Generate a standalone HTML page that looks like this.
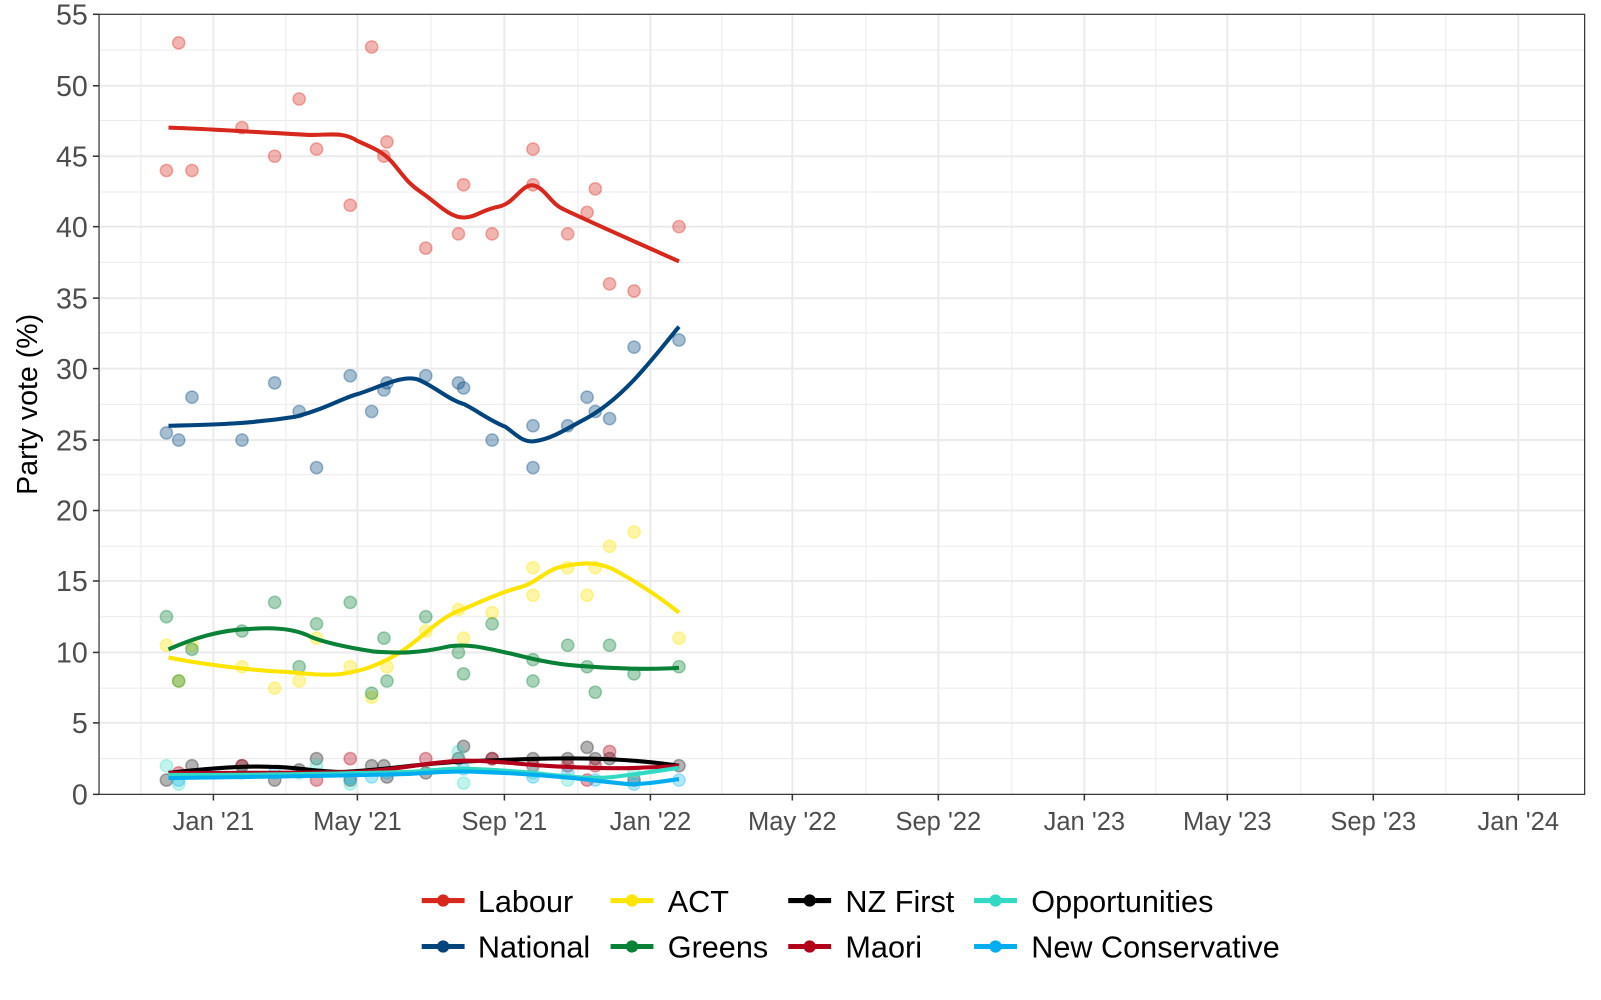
<!DOCTYPE html>
<html><head><meta charset="utf-8"><style>
html,body{margin:0;padding:0;background:#fff;overflow:hidden;}
svg{display:block;}
svg text{font-family:"Liberation Sans",sans-serif;}
</style></head><body>
<svg width="1601" height="1000" viewBox="0 0 1568 979.4" xmlns="http://www.w3.org/2000/svg">
<rect width="1568" height="980" fill="#fff"/>
<g stroke="#ebebeb" stroke-width="1">
<line x1="97" x2="1552" y1="743" y2="743"/><line x1="97" x2="1552" y1="674" y2="674"/><line x1="97" x2="1552" y1="604" y2="604"/><line x1="97" x2="1552" y1="535" y2="535"/><line x1="97" x2="1552" y1="465" y2="465"/><line x1="97" x2="1552" y1="396" y2="396"/><line x1="97" x2="1552" y1="326" y2="326"/><line x1="97" x2="1552" y1="257" y2="257"/><line x1="97" x2="1552" y1="188" y2="188"/><line x1="97" x2="1552" y1="118" y2="118"/><line x1="97" x2="1552" y1="49" y2="49"/>
<line y1="14" y2="778" x1="138" x2="138"/><line y1="14" y2="778" x1="280" x2="280"/><line y1="14" y2="778" x1="422" x2="422"/><line y1="14" y2="778" x1="566" x2="566"/><line y1="14" y2="778" x1="707" x2="707"/><line y1="14" y2="778" x1="848" x2="848"/><line y1="14" y2="778" x1="991" x2="991"/><line y1="14" y2="778" x1="1132" x2="1132"/><line y1="14" y2="778" x1="1274" x2="1274"/><line y1="14" y2="778" x1="1416" x2="1416"/>
</g>
<g stroke="#ebebeb" stroke-width="2">
<line x1="97" x2="1552" y1="708" y2="708"/><line x1="97" x2="1552" y1="639" y2="639"/><line x1="97" x2="1552" y1="569" y2="569"/><line x1="97" x2="1552" y1="500" y2="500"/><line x1="97" x2="1552" y1="431" y2="431"/><line x1="97" x2="1552" y1="361" y2="361"/><line x1="97" x2="1552" y1="292" y2="292"/><line x1="97" x2="1552" y1="222" y2="222"/><line x1="97" x2="1552" y1="153" y2="153"/><line x1="97" x2="1552" y1="84" y2="84"/>
<line y1="14" y2="778" x1="209" x2="209"/><line y1="14" y2="778" x1="350" x2="350"/><line y1="14" y2="778" x1="494" x2="494"/><line y1="14" y2="778" x1="637" x2="637"/><line y1="14" y2="778" x1="776" x2="776"/><line y1="14" y2="778" x1="919" x2="919"/><line y1="14" y2="778" x1="1062" x2="1062"/><line y1="14" y2="778" x1="1202" x2="1202"/><line y1="14" y2="778" x1="1345" x2="1345"/><line y1="14" y2="778" x1="1487" x2="1487"/>
</g>
<g fill="#d7281e" fill-opacity="0.35" stroke="#d7281e" stroke-opacity="0.35" stroke-width="1.5">
<circle cx="163" cy="167" r="6"/><circle cx="175" cy="42" r="6"/><circle cx="188" cy="167" r="6"/><circle cx="237" cy="125" r="6"/><circle cx="269" cy="153" r="6"/><circle cx="293" cy="97" r="6"/><circle cx="310" cy="146" r="6"/><circle cx="343" cy="201" r="6"/><circle cx="364" cy="46" r="6"/><circle cx="376" cy="153" r="6"/><circle cx="379" cy="139" r="6"/><circle cx="417" cy="243" r="6"/><circle cx="449" cy="229" r="6"/><circle cx="454" cy="181" r="6"/><circle cx="482" cy="229" r="6"/><circle cx="522" cy="146" r="6"/><circle cx="522" cy="181" r="6"/><circle cx="556" cy="229" r="6"/><circle cx="575" cy="208" r="6"/><circle cx="583" cy="185" r="6"/><circle cx="597" cy="278" r="6"/><circle cx="621" cy="285" r="6"/><circle cx="665" cy="222" r="6"/>
</g>
<g fill="#00447c" fill-opacity="0.35" stroke="#00447c" stroke-opacity="0.35" stroke-width="1.5">
<circle cx="163" cy="424" r="6"/><circle cx="175" cy="431" r="6"/><circle cx="188" cy="389" r="6"/><circle cx="237" cy="431" r="6"/><circle cx="269" cy="375" r="6"/><circle cx="293" cy="403" r="6"/><circle cx="310" cy="458" r="6"/><circle cx="343" cy="368" r="6"/><circle cx="364" cy="403" r="6"/><circle cx="376" cy="382" r="6"/><circle cx="379" cy="375" r="6"/><circle cx="417" cy="368" r="6"/><circle cx="449" cy="375" r="6"/><circle cx="454" cy="380" r="6"/><circle cx="482" cy="431" r="6"/><circle cx="522" cy="417" r="6"/><circle cx="522" cy="458" r="6"/><circle cx="556" cy="417" r="6"/><circle cx="575" cy="389" r="6"/><circle cx="583" cy="403" r="6"/><circle cx="597" cy="410" r="6"/><circle cx="621" cy="340" r="6"/><circle cx="665" cy="333" r="6"/>
</g>
<g fill="#fde401" fill-opacity="0.35" stroke="#fde401" stroke-opacity="0.35" stroke-width="1.5">
<circle cx="163" cy="632" r="6"/><circle cx="175" cy="667" r="6"/><circle cx="188" cy="632" r="6"/><circle cx="237" cy="653" r="6"/><circle cx="269" cy="674" r="6"/><circle cx="293" cy="667" r="6"/><circle cx="310" cy="625" r="6"/><circle cx="343" cy="653" r="6"/><circle cx="364" cy="683" r="6"/><circle cx="379" cy="653" r="6"/><circle cx="417" cy="618" r="6"/><circle cx="449" cy="597" r="6"/><circle cx="454" cy="625" r="6"/><circle cx="482" cy="600" r="6"/><circle cx="522" cy="556" r="6"/><circle cx="522" cy="583" r="6"/><circle cx="556" cy="556" r="6"/><circle cx="575" cy="583" r="6"/><circle cx="583" cy="556" r="6"/><circle cx="597" cy="535" r="6"/><circle cx="621" cy="521" r="6"/><circle cx="665" cy="625" r="6"/>
</g>
<g fill="#098137" fill-opacity="0.35" stroke="#098137" stroke-opacity="0.35" stroke-width="1.5">
<circle cx="163" cy="604" r="6"/><circle cx="175" cy="667" r="6"/><circle cx="188" cy="636" r="6"/><circle cx="237" cy="618" r="6"/><circle cx="269" cy="590" r="6"/><circle cx="293" cy="653" r="6"/><circle cx="310" cy="611" r="6"/><circle cx="343" cy="590" r="6"/><circle cx="364" cy="679" r="6"/><circle cx="376" cy="625" r="6"/><circle cx="379" cy="667" r="6"/><circle cx="417" cy="604" r="6"/><circle cx="449" cy="639" r="6"/><circle cx="454" cy="660" r="6"/><circle cx="482" cy="611" r="6"/><circle cx="522" cy="646" r="6"/><circle cx="522" cy="667" r="6"/><circle cx="556" cy="632" r="6"/><circle cx="575" cy="653" r="6"/><circle cx="583" cy="678" r="6"/><circle cx="597" cy="632" r="6"/><circle cx="621" cy="660" r="6"/><circle cx="665" cy="653" r="6"/>
</g>
<g fill="#000" fill-opacity="0.3" stroke="#000" stroke-opacity="0.3" stroke-width="1.5">
<circle cx="163" cy="764" r="6"/><circle cx="188" cy="750" r="6"/><circle cx="237" cy="750" r="6"/><circle cx="269" cy="764" r="6"/><circle cx="293" cy="754" r="6"/><circle cx="310" cy="743" r="6"/><circle cx="343" cy="764" r="6"/><circle cx="364" cy="750" r="6"/><circle cx="376" cy="750" r="6"/><circle cx="379" cy="761" r="6"/><circle cx="417" cy="757" r="6"/><circle cx="449" cy="743" r="6"/><circle cx="454" cy="731" r="6"/><circle cx="482" cy="743" r="6"/><circle cx="522" cy="743" r="6"/><circle cx="556" cy="743" r="6"/><circle cx="575" cy="732" r="6"/><circle cx="583" cy="743" r="6"/><circle cx="597" cy="743" r="6"/><circle cx="621" cy="764" r="6"/><circle cx="665" cy="750" r="6"/>
</g>
<g fill="#b2001a" fill-opacity="0.35" stroke="#b2001a" stroke-opacity="0.35" stroke-width="1.5">
<circle cx="175" cy="757" r="6"/><circle cx="237" cy="750" r="6"/><circle cx="310" cy="764" r="6"/><circle cx="343" cy="743" r="6"/><circle cx="417" cy="743" r="6"/><circle cx="482" cy="743" r="6"/><circle cx="522" cy="750" r="6"/><circle cx="556" cy="750" r="6"/><circle cx="575" cy="764" r="6"/><circle cx="597" cy="736" r="6"/><circle cx="583" cy="750" r="6"/>
</g>
<g fill="#32dac3" fill-opacity="0.3" stroke="#32dac3" stroke-opacity="0.3" stroke-width="1.5">
<circle cx="163" cy="750" r="6"/><circle cx="175" cy="768" r="6"/><circle cx="237" cy="757" r="6"/><circle cx="293" cy="757" r="6"/><circle cx="310" cy="750" r="6"/><circle cx="343" cy="768" r="6"/><circle cx="449" cy="736" r="6"/><circle cx="454" cy="767" r="6"/><circle cx="522" cy="757" r="6"/><circle cx="556" cy="764" r="6"/><circle cx="621" cy="757" r="6"/>
</g>
<g fill="#00aeef" fill-opacity="0.3" stroke="#00aeef" stroke-opacity="0.3" stroke-width="1.5">
<circle cx="175" cy="764" r="6"/><circle cx="269" cy="757" r="6"/><circle cx="343" cy="762" r="6"/><circle cx="364" cy="761" r="6"/><circle cx="379" cy="757" r="6"/><circle cx="454" cy="753" r="6"/><circle cx="522" cy="761" r="6"/><circle cx="556" cy="757" r="6"/><circle cx="583" cy="764" r="6"/><circle cx="621" cy="768" r="6"/><circle cx="665" cy="764" r="6"/>
</g>
<g fill="none" stroke-width="4" stroke-linejoin="round">
<path stroke="#d7281e" d="M165,125 C200,126 260,130 300,132 C320,133 335,128 350,138 C365,145 375,148 385,160 C395,172 400,180 412,188 C425,196 440,214 455,213 C468,212 470,206 490,202 C505,198 512,178 524,182 C535,186 540,200 552,205 C575,216 620,236 665,256"/>
<path stroke="#00447c" d="M165,417 C200,416 240,416 290,408 C320,400 335,390 350,386 C370,380 395,366 410,372 C425,378 440,392 455,396 C470,404 480,412 495,418 C505,425 512,434 524,432 C540,430 555,420 570,412 C590,402 610,385 630,362 C645,345 655,332 665,320"/>
<path stroke="#fde401" d="M165,644 C200,651 250,657 280,658 C300,660 320,662 335,660 C355,657 370,652 390,640 C410,628 430,605 450,598 C470,590 490,580 510,575 C525,571 535,558 550,555 C565,552 585,548 605,560 C630,574 650,588 665,600"/>
<path stroke="#098137" d="M165,636 C190,625 215,617 245,616 C270,614 290,616 305,624 C320,630 340,634 365,638 C390,640 410,640 440,633 C460,630 480,636 500,640 C520,645 540,650 565,652 C600,655 640,656 665,654"/>
<path stroke="#000" d="M165,757 C200,753 240,750 265,751 C290,751 310,756 335,756 C370,755 410,748 450,746 C500,744 540,742 580,743 C620,744 645,747 665,750"/>
<path stroke="#b2001a" d="M165,757 C230,757 300,757 350,756 C390,754 420,746 455,745 C490,745 510,749 535,750 C570,752 600,753 625,752 C645,751 655,751 665,750"/>
<path stroke="#32dac3" d="M165,759 C240,759 330,758 400,756 C430,754 445,752 460,753 C490,754 515,756 540,759 C560,761 580,763 600,761 C625,758 645,755 665,752"/>
<path stroke="#00aeef" d="M165,762 C240,761 330,760 400,758 C430,756 450,755 470,756 C500,757 530,759 560,762 C580,764 595,766 615,768 C635,768 650,765 665,763"/>
</g>
<rect x="97" y="14" width="1455" height="764" fill="none" stroke="#333" stroke-width="1.2"/>
<g stroke="#333" stroke-width="1.5">
<line x1="91" x2="97" y1="778" y2="778"/><line x1="91" x2="97" y1="708" y2="708"/><line x1="91" x2="97" y1="639" y2="639"/><line x1="91" x2="97" y1="569" y2="569"/><line x1="91" x2="97" y1="500" y2="500"/><line x1="91" x2="97" y1="431" y2="431"/><line x1="91" x2="97" y1="361" y2="361"/><line x1="91" x2="97" y1="292" y2="292"/><line x1="91" x2="97" y1="222" y2="222"/><line x1="91" x2="97" y1="153" y2="153"/><line x1="91" x2="97" y1="84" y2="84"/><line x1="91" x2="97" y1="14" y2="14"/>
<line y1="778" y2="784" x1="209" x2="209"/><line y1="778" y2="784" x1="350" x2="350"/><line y1="778" y2="784" x1="494" x2="494"/><line y1="778" y2="784" x1="637" x2="637"/><line y1="778" y2="784" x1="776" x2="776"/><line y1="778" y2="784" x1="919" x2="919"/><line y1="778" y2="784" x1="1062" x2="1062"/><line y1="778" y2="784" x1="1202" x2="1202"/><line y1="778" y2="784" x1="1345" x2="1345"/><line y1="778" y2="784" x1="1487" x2="1487"/>
</g>
<g fill="#4d4d4d" font-size="28" text-anchor="end">
<text x="86" y="788">0</text><text x="86" y="718">5</text><text x="86" y="649">10</text><text x="86" y="579">15</text><text x="86" y="510">20</text><text x="86" y="441">25</text><text x="86" y="371">30</text><text x="86" y="302">35</text><text x="86" y="232">40</text><text x="86" y="163">45</text><text x="86" y="94">50</text><text x="86" y="24">55</text>
</g>
<g fill="#4d4d4d" font-size="25" text-anchor="middle">
<text x="209" y="813">Jan '21</text><text x="350" y="813">May '21</text><text x="494" y="813">Sep '21</text><text x="637" y="813">Jan '22</text><text x="776" y="813">May '22</text><text x="919" y="813">Sep '22</text><text x="1062" y="813">Jan '23</text><text x="1202" y="813">May '23</text><text x="1345" y="813">Sep '23</text><text x="1487" y="813">Jan '24</text>
</g>
<text transform="translate(36,396) rotate(-90)" font-size="28" text-anchor="middle" fill="#000">Party vote (%)</text>
<g stroke-width="5">
<line x1="413" x2="455" y1="882" y2="882" stroke="#d7281e"/><circle cx="434" cy="882" r="6" fill="#d7281e"/>
<line x1="413" x2="455" y1="927" y2="927" stroke="#00447c"/><circle cx="434" cy="927" r="6" fill="#00447c"/>
<line x1="598" x2="640" y1="882" y2="882" stroke="#fde401"/><circle cx="619" cy="882" r="6" fill="#fde401"/>
<line x1="598" x2="640" y1="927" y2="927" stroke="#098137"/><circle cx="619" cy="927" r="6" fill="#098137"/>
<line x1="772" x2="814" y1="882" y2="882" stroke="#000"/><circle cx="793" cy="882" r="6" fill="#000"/>
<line x1="772" x2="814" y1="927" y2="927" stroke="#b2001a"/><circle cx="793" cy="927" r="6" fill="#b2001a"/>
<line x1="954" x2="996" y1="882" y2="882" stroke="#32dac3"/><circle cx="975" cy="882" r="6" fill="#32dac3"/>
<line x1="954" x2="996" y1="927" y2="927" stroke="#00aeef"/><circle cx="975" cy="927" r="6" fill="#00aeef"/>
</g>
<g font-size="30" fill="#000">
<text x="468" y="893">Labour</text><text x="468" y="938">National</text>
<text x="654" y="893">ACT</text><text x="654" y="938">Greens</text>
<text x="828" y="893">NZ First</text><text x="828" y="938">Maori</text>
<text x="1010" y="893">Opportunities</text><text x="1010" y="938">New Conservative</text>
</g>
</svg>
</body></html>
